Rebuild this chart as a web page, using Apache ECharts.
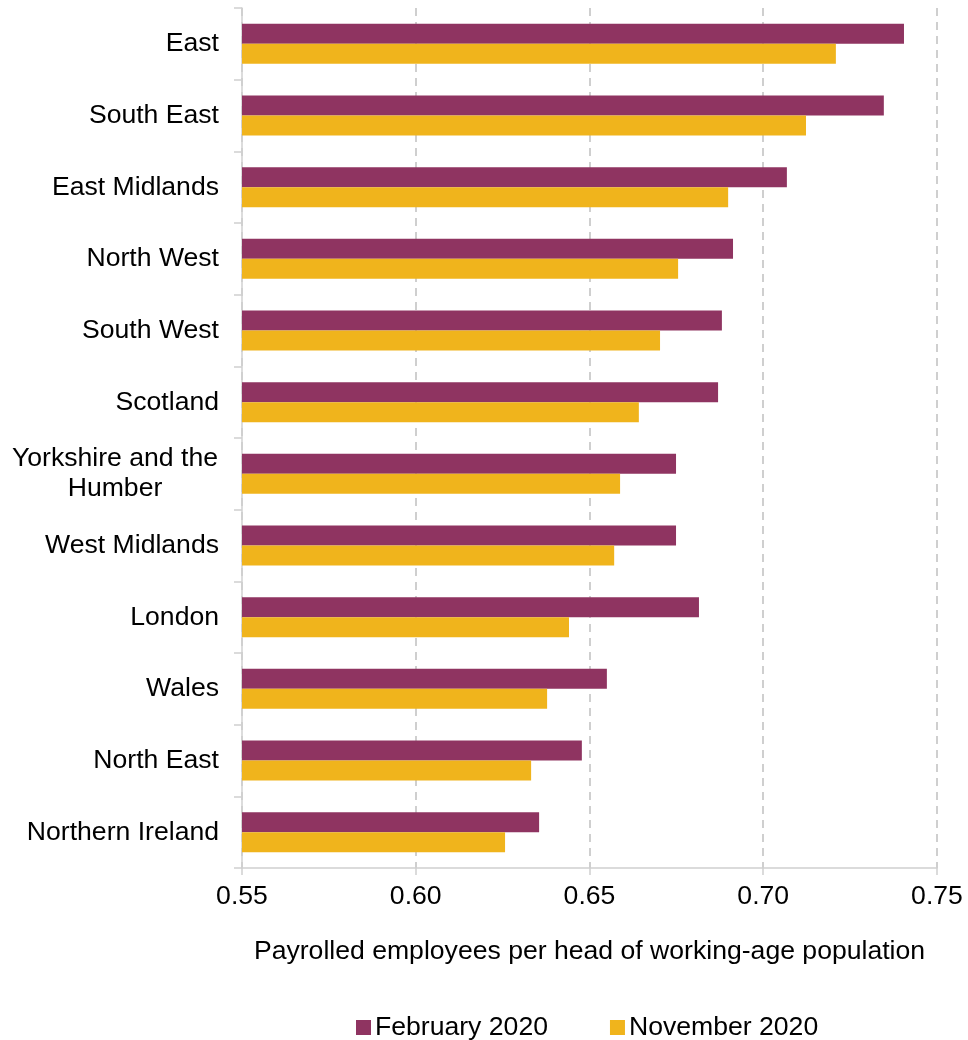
<!DOCTYPE html>
<html>
<head>
<meta charset="utf-8">
<script src="https://cdn.jsdelivr.net/npm/echarts@6/dist/echarts.min.js"></script>
<style>html,body{margin:0;padding:0;background:#fff;}#c{width:968px;height:1040px;}</style>
</head>
<body>
<div id="c"></div>
<script>
const categories = ["East","South East","East Midlands","North West","South West","Scotland","Yorkshire and the Humber","West Midlands","London","Wales","North East","Northern Ireland"];
const feb2020 = [0.7405,0.7347,0.7068,0.6913,0.6881,0.6870,0.6749,0.6749,0.6815,0.6550,0.6478,0.6355];
const nov2020 = [0.7209,0.7123,0.6899,0.6755,0.6703,0.6642,0.6588,0.6571,0.6441,0.6378,0.6332,0.6257];
const xTicks = [0.55,0.60,0.65,0.70,0.75];
const seriesNames = ["February 2020","November 2020"];

const FONT = '"Liberation Sans", Arial, sans-serif';
const FS = 26.6;
const chart = echarts.init(document.getElementById('c'), null, {renderer:'canvas'});
chart.setOption({
  animation:false,
  textStyle:{fontFamily:FONT},
  grid:{left:242,right:31,top:8,bottom:172,containLabel:false},
  legend:{
    left:356, top:1014, padding:0, itemWidth:15, itemHeight:15, itemGap:62, icon:'rect',
    textStyle:{fontFamily:FONT,fontSize:FS,color:'#000',padding:[0,0,0,-1]},
    data:seriesNames
  },
  xAxis:{
    type:'value', min:xTicks[0], max:xTicks[xTicks.length-1], interval:0.05,
    axisLine:{show:true,lineStyle:{color:'#d0d0d0',width:1.5}},
    axisTick:{show:true,length:7,lineStyle:{color:'#d0d0d0',width:1.5}},
    axisLabel:{fontFamily:FONT,fontSize:FS,color:'#000',margin:15,formatter:v=>v.toFixed(2)},
    splitLine:{show:true,lineStyle:{color:'#c0c0c0',width:1.5,type:[8,6]}},
    name:'Payrolled employees per head of working-age population',
    nameLocation:'middle', nameGap:70,
    nameTextStyle:{fontFamily:FONT,fontSize:FS,color:'#000'}
  },
  yAxis:{
    type:'category', data:categories, inverse:true,
    axisLine:{show:true,lineStyle:{color:'#d0d0d0',width:1.5}},
    axisTick:{show:true,length:8,lineStyle:{color:'#d0d0d0',width:1.5}},
    axisLabel:{
      fontFamily:FONT,fontSize:FS,color:'#000',margin:23,lineHeight:30,
      formatter:function(v){
        if(v==='Yorkshire and the Humber') return '{c|Yorkshire and the}\n{c|Humber}';
        return v;
      },
      rich:{c:{fontFamily:FONT,fontSize:FS,color:'#000',width:208,align:'center',lineHeight:30}}
    }
  },
  series:[
    {name:seriesNames[0],type:'bar',data:feb2020,barWidth:20,barGap:'0%',itemStyle:{color:'#8F3461'}},
    {name:seriesNames[1],type:'bar',data:nov2020,barWidth:20,barGap:'0%',itemStyle:{color:'#F0B41C'}}
  ]
});
</script>
</body>
</html>
